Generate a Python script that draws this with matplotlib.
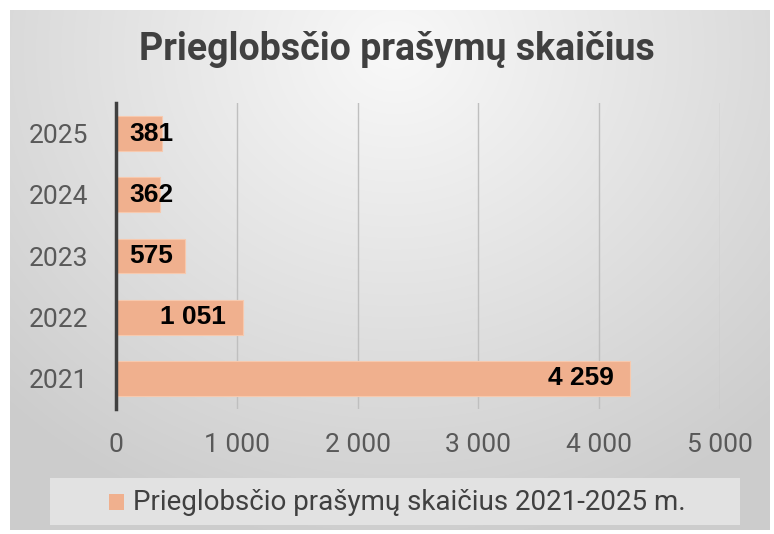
import numpy as np
import matplotlib
matplotlib.use("Agg")
import matplotlib.pyplot as plt
from matplotlib.patches import Rectangle

years = ["2021", "2022", "2023", "2024", "2025"]
values = [4259, 1051, 575, 362, 381]
value_labels = ["4 259", "1 051", "575", "362", "381"]
xticks = [0, 1000, 2000, 3000, 4000, 5000]
xtick_labels = ["0", "1 000", "2 000", "3 000", "4 000", "5 000"]
title = "Prieglobsčio prašymų skaičius"
legend_label = "Prieglobsčio prašymų skaičius 2021-2025 m."

W, H = 774, 534
fig = plt.figure(figsize=(W / 100, H / 100), dpi=100)
fig.patch.set_facecolor("white")

# background panel with radial gradient
bg = fig.add_axes([10 / W, 1 - 530 / H, 760 / W, 520 / H])
bg.set_axis_off()
yy, xx = np.mgrid[0:520, 0:760]
cx, cy = 385, 40
r = np.sqrt(((xx - cx) / 1.0) ** 2 + ((yy - cy) / 0.9) ** 2)
t = np.clip(r / 560, 0, 1)
inner = np.array([0.975, 0.975, 0.975])
outer = np.array([0.80, 0.80, 0.80])
img = inner[None, None, :] * (1 - t[..., None]) + outer[None, None, :] * t[..., None]
bg.imshow(img, aspect="auto", extent=[0, 1, 0, 1], origin="upper")
bg.set_xlim(0, 1)
bg.set_ylim(0, 1)

# legend box
bg.add_patch(Rectangle(((50 - 10) / 760, (530 - 525) / 520), 690 / 760, 47 / 520,
                       transform=bg.transAxes, facecolor="#e6e6e6", edgecolor="none", alpha=0.85))

ax = fig.add_axes([116 / W, 1 - 409 / H, (720 - 116) / W, (409 - 103) / H])
ax.patch.set_alpha(0)
ypos = np.arange(len(years))
bar_color = "#f0b08e"
ax.barh(ypos, values, height=0.57, color=bar_color, edgecolor="#f7c9ae", linewidth=0.8, zorder=2)
ax.set_xlim(0, 5000)
ax.set_ylim(-0.5, 4.5)
ax.set_xticks(xticks)
ax.set_xticklabels(xtick_labels)
ax.set_yticks(ypos)
ax.set_yticklabels(years)
ax.tick_params(axis="x", length=0, pad=17, labelcolor="#595959")
ax.tick_params(axis="y", length=0, pad=20, labelcolor="#595959")
for lbl in ax.get_xticklabels() + ax.get_yticklabels():
    lbl.set_family(["Roboto", "DejaVu Sans"])
    lbl.set_fontsize(19)
ax.grid(axis="x", color="#bfbfbf", linewidth=1.0, zorder=1)
ax.grid(axis="y", visible=False)
for s in ["top", "right", "bottom"]:
    ax.spines[s].set_visible(False)
ax.spines["left"].set_color("#404040")
ax.spines["left"].set_linewidth(2.5)
ax.spines["left"].set_zorder(3)

for y, v, lab in zip(ypos, values, value_labels):
    if v >= 1000:
        ax.text(v - 140, y, lab, ha="right", va="center", fontsize=19, fontweight="bold",
                color="black", family=["Liberation Sans", "DejaVu Sans"], zorder=4)
    else:
        ax.text(108, y, lab, ha="left", va="center", fontsize=19, fontweight="bold",
                color="black", family=["Liberation Sans", "DejaVu Sans"], zorder=4)

fig.text(397 / W, 1 - 50 / H, title, ha="center", va="center", fontsize=27,
         fontweight="bold", color="#404040", family=["Roboto", "DejaVu Sans"])

# legend
fig.patches.append(Rectangle((109 / W, 1 - 510 / H), 15 / W, 16 / H, transform=fig.transFigure,
                             facecolor=bar_color, edgecolor="none"))
fig.text(133 / W, 1 - 502 / H, legend_label, ha="left", va="center", fontsize=20,
         color="#404040", family=["Roboto", "DejaVu Sans"])

fig.savefig("out.png", dpi=100)
